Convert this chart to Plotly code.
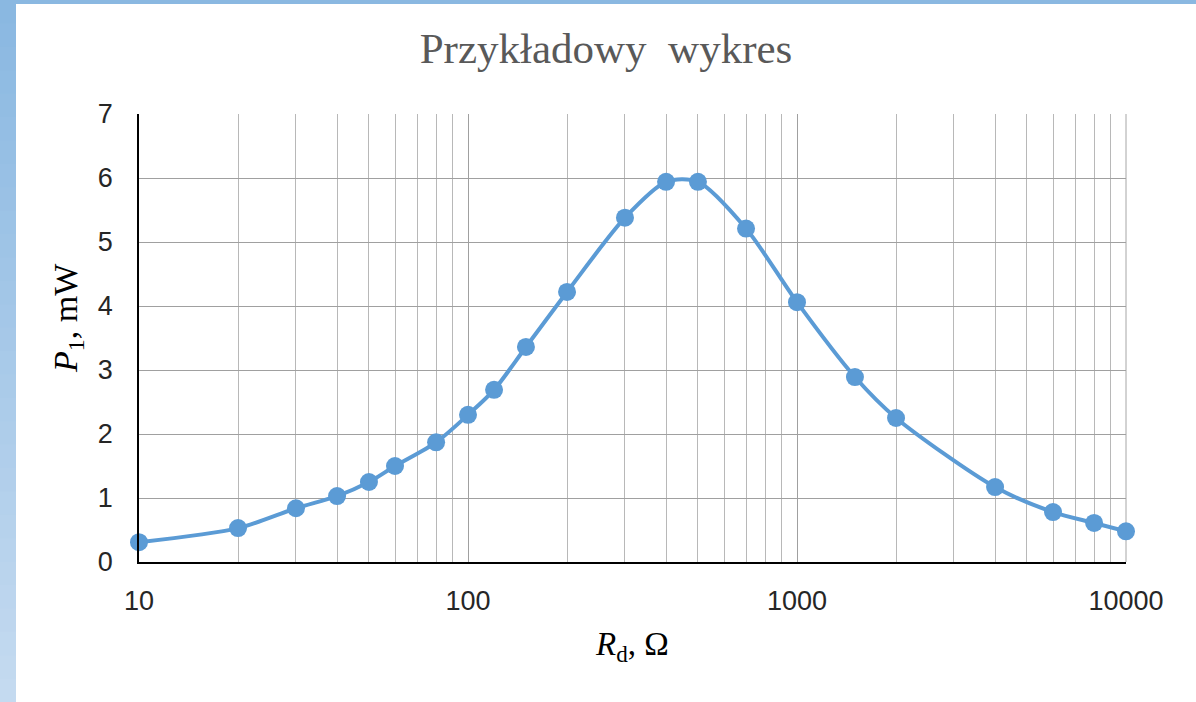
import plotly.graph_objects as go

r_d = [10, 20, 30, 40, 50, 60, 80, 100, 120, 150, 200, 300, 400, 500, 700,
       1000, 1500, 2000, 4000, 6000, 8000, 10000]
p1 = [0.31, 0.53, 0.84, 1.03, 1.25, 1.50, 1.87, 2.30, 2.69, 3.36, 4.22, 5.38,
      5.94, 5.94, 5.21, 4.06, 2.89, 2.25, 1.17, 0.78, 0.61, 0.48]
x_ticks = [10, 100, 1000, 10000]
x_tick_labels = ["10", "100", "1000", "10000"]
y_ticks = [0, 1, 2, 3, 4, 5, 6, 7]

W, H = 1196, 702
L, R, T, B = 139, 70, 114, 140
pw, ph = W - L - R, H - T - B

def px_to_paper_x(px):
    return (px - L) / pw

def px_to_paper_y(py):
    return (H - B - py) / ph

fig = go.Figure()
fig.add_trace(go.Scatter(
    x=r_d, y=p1, mode="lines+markers",
    line=dict(color="#5b9bd5", width=4, shape="spline", smoothing=0.8),
    marker=dict(color="#5b9bd5", size=18),
    showlegend=False, cliponaxis=False,
))

shapes = []
# left gradient strip
n = 30
c_top = (138, 184, 225)
c_bot = (196, 218, 240)
for i in range(n):
    f = i / (n - 1)
    c = tuple(int(round(c_top[k] + (c_bot[k] - c_top[k]) * f)) for k in range(3))
    y0 = H * i / n
    y1 = H * (i + 1) / n + 1
    shapes.append(dict(type="rect", xref="paper", yref="paper",
                       x0=px_to_paper_x(0), x1=px_to_paper_x(16),
                       y0=px_to_paper_y(min(y1, H)), y1=px_to_paper_y(y0),
                       fillcolor="rgb(%d,%d,%d)" % c, line=dict(width=0), layer="below"))
# top strip
shapes.append(dict(type="rect", xref="paper", yref="paper",
                   x0=px_to_paper_x(0), x1=px_to_paper_x(W),
                   y0=px_to_paper_y(4), y1=px_to_paper_y(0),
                   fillcolor="rgb(138,184,225)", line=dict(width=0), layer="below"))
# right border gridline
shapes.append(dict(type="line", xref="paper", yref="paper", x0=1, x1=1, y0=0, y1=1,
                   line=dict(color="#a6a6a6", width=1), layer="below"))

annotations = [
    dict(text="<i>R</i><sub>d</sub>, Ω", xref="paper", yref="paper",
         x=px_to_paper_x(632), y=px_to_paper_y(646), xanchor="center", yanchor="middle",
         showarrow=False, font=dict(family="Liberation Serif", size=33, color="#000000")),
    dict(text="<i>P</i><sub>1</sub>, mW", xref="paper", yref="paper", textangle=-90,
         x=px_to_paper_x(68), y=px_to_paper_y(318), xanchor="center", yanchor="middle",
         showarrow=False, font=dict(family="Liberation Serif", size=34, color="#000000")),
]

fig.update_layout(
    width=W, height=H,
    margin=dict(l=L, r=R, t=T, b=B),
    paper_bgcolor="white", plot_bgcolor="white",
    shapes=shapes, annotations=annotations,
    title=dict(text="Przykładowy&nbsp;&nbsp;wykres", x=606 / W, xanchor="center",
               y=1 - 48 / H, yanchor="middle",
               font=dict(family="Liberation Serif", size=43, color="#595959")),
    xaxis=dict(
        type="log", range=[1, 4],
        tickvals=x_ticks, ticktext=x_tick_labels,
        showgrid=True, gridcolor="#a0a0a0", gridwidth=1,
        minor=dict(showgrid=True, dtick="D1", gridcolor="#b8b8b8", gridwidth=1),
        showline=True, linecolor="#000000", linewidth=1.5,
        ticks="", ticklabelstandoff=14,
        tickfont=dict(family="Liberation Sans", size=27, color="#262626"),
        zeroline=False,
    ),
    yaxis=dict(
        range=[0, 7], tickvals=y_ticks,
        showgrid=True, gridcolor="#a0a0a0", gridwidth=1,
        showline=True, linecolor="#000000", linewidth=1.5,
        ticks="", ticklabelstandoff=19,
        tickfont=dict(family="Liberation Sans", size=27, color="#262626"),
        zeroline=False,
    ),
)

fig.write_html("out.html", config={"displayModeBar": False},
               post_script="document.body.style.margin='0px';")
